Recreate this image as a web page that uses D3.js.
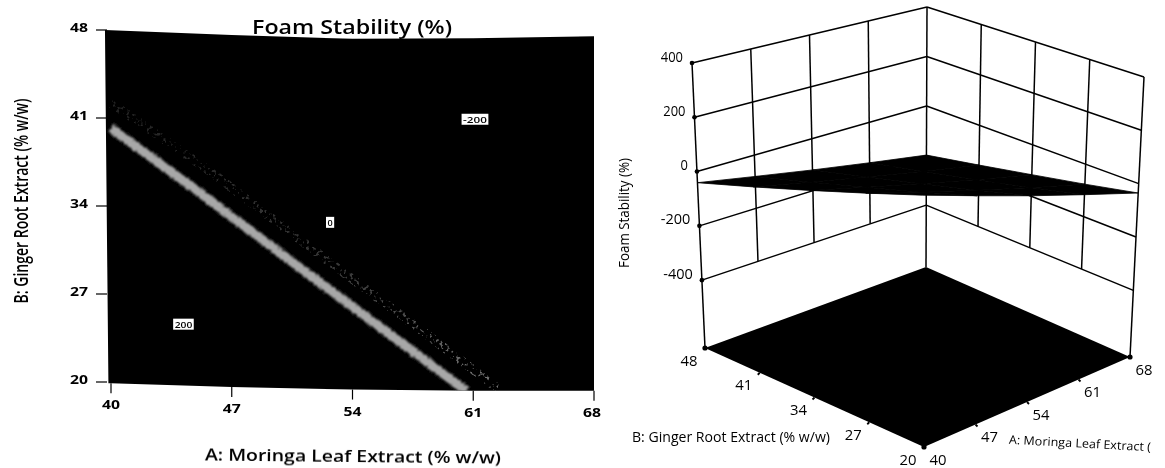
<!DOCTYPE html>
<html><head><meta charset="utf-8">
<script src="https://cdn.jsdelivr.net/npm/d3@7/dist/d3.min.js"></script>
<style>html,body{margin:0;padding:0;background:#fff}svg{display:block}text{font-family:"Open Sans",sans-serif;fill:#000}</style>
</head><body><svg id="c" width="1165" height="468"></svg>
<script>
// ---- data ----
const aTicks = [40, 47, 54, 61, 68];
const bTicks = [20, 27, 34, 41, 48];
const zTicks = [-400, -200, 0, 200, 400];
const zFloor = -650;
// edges of the contour field, in B units per A tick
const fieldTop = [48, 47.6, 47.3, 47.35, 47.5];
const fieldBottom = [19.9, 19.6, 19.4, 19.3, 19.3];
// bright contour band
const brightA = [40, 44.7, 52.4, 60.6];
const brightB = [40.2, 35.5, 27.6, 19.3];
// faint contour band
const faintA = [40, 45.6, 52.7, 58, 62.4];
const faintB = [42.2, 36.9, 29.5, 24.1, 19.5];
// contour labels
const contourText = ["-200", "0", "200"];
const contourA = [61.1, 52.7, 44.2];
const contourB = [40.9, 32.7, 24.6];
// response surface: rows by bTicks, columns by aTicks
const surfaceB20 = [203, 144, 84, 25, -35];
const surfaceB27 = [142, 87, 33, -22, -76];
const surfaceB34 = [81, 32, -17, -67, -116];
const surfaceB41 = [20, -24, -68, -113, -157];
const surfaceB48 = [-41, -80, -120, -159, -198];
const surfaceRows = [surfaceB20, surfaceB27, surfaceB34, surfaceB41, surfaceB48];

const svg = d3.select("#c");
const defs = svg.append("defs");
defs.append("filter").attr("id","soft").attr("x","-5%").attr("y","-5%").attr("width","110%").attr("height","110%")
  .append("feGaussianBlur").attr("stdDeviation",0.4);
const rough = defs.append("filter").attr("id","rough").attr("filterUnits","userSpaceOnUse")
  .attr("x",90).attr("y",80).attr("width",420).attr("height",330);
rough.append("feTurbulence").attr("type","fractalNoise").attr("baseFrequency",0.5).attr("numOctaves",2).attr("seed",7).attr("result","n");
rough.append("feDisplacementMap").attr("in","SourceGraphic").attr("in2","n").attr("scale",5).attr("xChannelSelector","R").attr("yChannelSelector","G").attr("result","d");
rough.append("feGaussianBlur").attr("in","d").attr("stdDeviation",1);
const grain = defs.append("filter").attr("id","grain").attr("filterUnits","userSpaceOnUse")
  .attr("x",90).attr("y",80).attr("width",430).attr("height",330);
grain.append("feTurbulence").attr("type","fractalNoise").attr("baseFrequency",0.3).attr("numOctaves",2).attr("seed",4).attr("result","n");
grain.append("feColorMatrix").attr("in","n").attr("type","matrix").attr("values","0 0 0 0 1  0 0 0 0 1  0 0 0 0 1  0 0 0 7 -3.9").attr("result","a");
grain.append("feComposite").attr("in","SourceGraphic").attr("in2","a").attr("operator","in").attr("result","g");
grain.append("feGaussianBlur").attr("in","g").attr("stdDeviation",0.5);
const fade = defs.append("linearGradient").attr("id","fade").attr("gradientUnits","userSpaceOnUse")
  .attr("x1",110).attr("y1",100).attr("x2",500).attr("y2",390);
[[0,"#222"],[.6,"#383838"],[1,"#777"]].forEach(s => fade.append("stop").attr("offset",s[0]).attr("stop-color",s[1]));

function label(g, s, x, y, size, len, opt = {}) {
  const t = g.append("text").attr("transform", `translate(${x},${y}) rotate(${opt.rot || 0})`)
    .attr("text-anchor", opt.anchor || "middle").attr("dominant-baseline", "central")
    .attr("font-size", size).attr("font-weight", opt.weight || 500).text(s);
  if (len) t.attr("textLength", len).attr("lengthAdjust", "spacingAndGlyphs");
  return t;
}

// ---- left: contour plot ----
const L = svg.append("g").attr("filter", "url(#soft)");
const x = d3.scaleLinear().domain([40, 68]).range([111, 594]);
const y = d3.scaleLinear().domain([20, 48]).range([382, 30]);
const region = [[39.65, 48], ...aTicks.slice(1).map((a, i) => [a, fieldTop[i + 1]]),
  ...aTicks.slice().reverse().map((a, i) => [a, fieldBottom[4 - i]]), [39.85, 19.9]];
const regionLine = d3.line().x(d => x(d[0])).y(d => y(d[1]));
defs.append("clipPath").attr("id", "fieldClip").append("path").attr("d", regionLine(region) + "Z");
L.append("path").attr("d", regionLine(region) + "Z").attr("fill", "#000");
const bands = L.append("g").attr("clip-path", "url(#fieldClip)");
const pts = (as, bs) => as.map((a, i) => [a, bs[i]]);
const band = d3.line().x(d => x(d[0])).y(d => y(d[1]));
bands.append("path").attr("d", band(pts(faintA, faintB))).attr("fill", "none").attr("stroke", "url(#fade)")
  .attr("stroke-width", 9).attr("filter", "url(#grain)");
bands.append("path").attr("d", band(pts(brightA, brightB))).attr("fill", "none").attr("stroke", "#a8a8a8")
  .attr("stroke-width", 9).attr("filter", "url(#rough)");
// ticks
L.selectAll(".yt").data(bTicks).join("line").attr("x1", 96).attr("x2", 107)
  .attr("y1", d => y(d)).attr("y2", d => y(d)).attr("stroke", "#000").attr("stroke-width", 1.2);
const bottomOf = a => y(fieldBottom[aTicks.indexOf(a)]);
L.selectAll(".xt").data(aTicks).join("line").attr("x1", d => x(d)).attr("x2", d => x(d))
  .attr("y1", bottomOf).attr("y2", d => bottomOf(d) + 10).attr("stroke", "#000").attr("stroke-width", 1.2);
bTicks.forEach(b => label(L, String(b), 88, y(b) - 3, 13, 18, { anchor: "end", weight: 700 }));
aTicks.forEach(a => label(L, String(a), Math.min(x(a), 592), bottomOf(a) + 21, 13, 18, { weight: 700 }));
contourText.forEach((s, i) => {
  const cx = x(contourA[i]), cy = y(contourB[i]);
  const w = s.length * 6.2 + 2;
  L.append("rect").attr("x", cx - w / 2).attr("y", cy - 5.5).attr("width", w).attr("height", 11).attr("fill", "#fff");
  label(L, s, cx, cy, 9.5, w - 3, { weight: 600 });
});
label(L, "Foam Stability (%)", 352, 26, 20, 200, { weight: 600 });
label(L, "A: Moringa Leaf Extract (% w/w)", 353, 456, 15.5, 296, { rot: 0.6, weight: 600 });
label(L, "B: Ginger Root Extract (% w/w)", 21, 201, 19, 205, { rot: -90, weight: 600 });

// ---- right: response surface ----
const R = svg.append("g").attr("filter", "url(#soft)");
const u = d3.scaleLinear().domain([40, 68]).range([0, 1]);
const v = d3.scaleLinear().domain([20, 48]).range([0, 1]);
const h = d3.scaleLinear().domain([zFloor, 400]).range([0, 1]);
// plot box corners: front(A40,B20), right(A68,B20), left(A40,B48), back(A68,B48)
const floorBox = { f: [924, 447], r: [1130, 357], l: [705, 348], b: [926, 267] };
const topBox = { f: [922, 137], r: [1144, 77], l: [692, 63], b: [927, 7] };
const bil = (q, s, t) => [0, 1].map(k =>
  d3.interpolateNumber(d3.interpolateNumber(q.f[k], q.r[k])(s), d3.interpolateNumber(q.l[k], q.b[k])(s))(t));
function proj(a, b, z) {
  const s = u(a), t = v(b), p0 = bil(floorBox, s, t), p1 = bil(topBox, s, t), w = h(z);
  return [p0[0] + (p1[0] - p0[0]) * w, p0[1] + (p1[1] - p0[1]) * w];
}
const seg = (g, p, q, w = 1.5) => g.append("line").attr("x1", p[0]).attr("y1", p[1]).attr("x2", q[0]).attr("y2", q[1])
  .attr("stroke", "#000").attr("stroke-width", w);
// walls
zTicks.forEach(z => {
  seg(R, proj(40, 48, z), proj(68, 48, z));
  seg(R, proj(68, 48, z), proj(68, 20, z));
});
aTicks.slice(1, 4).forEach(a => seg(R, proj(a, 48, -400), proj(a, 48, 400)));
bTicks.slice(1, 4).forEach(b => seg(R, proj(68, b, -400), proj(68, b, 400)));
seg(R, proj(40, 48, zFloor), proj(40, 48, 400));
seg(R, proj(68, 48, zFloor), proj(68, 48, 400));
seg(R, proj(68, 20, zFloor), proj(68, 20, 400));
// floor
const outline = d3.line();
R.append("path").attr("d", outline([proj(40, 20, zFloor), proj(68, 20, zFloor), proj(68, 48, zFloor), proj(40, 48, zFloor)]) + "Z").attr("fill", "#000");
// surface cells
surfaceRows.slice(0, -1).forEach((row, i) => row.slice(0, -1).forEach((z, j) => {
  const q = [proj(aTicks[j], bTicks[i], z), proj(aTicks[j + 1], bTicks[i], row[j + 1]),
    proj(aTicks[j + 1], bTicks[i + 1], surfaceRows[i + 1][j + 1]), proj(aTicks[j], bTicks[i + 1], surfaceRows[i + 1][j])];
  R.append("path").attr("d", outline(q) + "Z").attr("fill", "#000").attr("stroke", "#000").attr("stroke-width", .8);
}));
// dots
zTicks.forEach(z => { const p = proj(40, 48, z);
  R.append("circle").attr("cx", p[0]).attr("cy", p[1]).attr("r", 2.3).attr("fill", "#000"); });
[[40, 48], [68, 20], [40, 20]].forEach(c => { const p = proj(c[0], c[1], zFloor);
  R.append("circle").attr("cx", p[0]).attr("cy", p[1]).attr("r", 2.6).attr("fill", "#000"); });
// floor ticks
bTicks.slice(1, 4).forEach(b => { const p = proj(40, b, zFloor); seg(R, p, [p[0] - 2, p[1] + 2], 1.8); });
aTicks.slice(1, 4).forEach(a => { const p = proj(a, 20, zFloor); seg(R, p, [p[0] + 2, p[1] + 2], 1.8); });
// tick labels
zTicks.forEach(z => { const p = proj(40, 48, z);
  label(R, String(z), p[0] - 9, p[1] - 7, 14, String(z).length * 7.4, { anchor: "end" }); });
bTicks.forEach(b => { const p = proj(40, b, zFloor); label(R, String(b), p[0] - 16, p[1] + 12, 14, 17); });
aTicks.forEach(a => { const p = proj(a, 20, zFloor); label(R, String(a), p[0] + 14, p[1] + 12, 14, 17); });
label(R, "Foam Stability (%)", 623, 213, 14, 110, { rot: -90 });
label(R, "B: Ginger Root Extract (% w/w)", 731, 436, 14, 198);
label(R, "A: Moringa Leaf Extract (", 1080, 443, 12, 142, { rot: 3 });
</script></body></html>
